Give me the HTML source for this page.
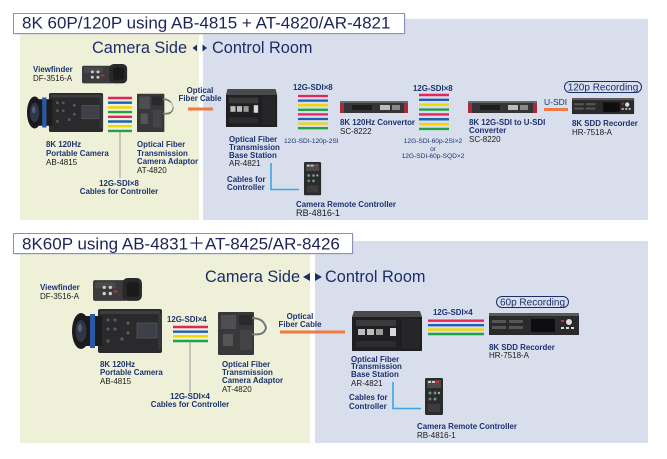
<!DOCTYPE html>
<html><head><meta charset="utf-8">
<style>
html,body{margin:0;padding:0;background:#fff;}
svg{display:block;}
text{font-family:"Liberation Sans","Noto Sans CJK JP",sans-serif;}
.lb{font-size:7.9px;font-weight:bold;fill:#1d3270;}
.md{font-size:8px;fill:#1a1a1a;}
.tiny{font-size:6.6px;fill:#1d3270;}
.hd{font-size:17px;fill:#1c2456;}
.sd{font-size:16.3px;fill:#1c2d6a;}
</style></head>
<body>
<svg width="667" height="459" viewBox="0 0 667 459" xmlns="http://www.w3.org/2000/svg">
<rect width="667" height="459" fill="#fff"/>

<!-- ============ TOP SECTION ============ -->
<rect x="203" y="19" width="445" height="201" fill="#d8deec"/>
<rect x="20" y="33" width="179" height="187" fill="#eef1d8"/>
<rect x="14.5" y="14.5" width="391" height="20" fill="#c9cbd6"/>
<rect x="13.5" y="13.5" width="391" height="20" fill="#fff" stroke="#8b93b5" stroke-width="1"/>
<text class="hd" x="22" y="28.5">8K 60P/120P using AB-4815 + AT-4820/AR-4821</text>

<text class="sd" x="92" y="53">Camera Side</text>
<polygon points="197,44.5 197,51.5 192.5,48" fill="#1c2d6a"/>
<polygon points="202.5,44.5 202.5,51.5 207,48" fill="#1c2d6a"/>
<text class="sd" x="212" y="53">Control Room</text>

<!-- Viewfinder top -->
<g transform="translate(82,64) scale(0.94,0.88)">
  <rect x="0" y="2" width="33" height="20" rx="2" fill="#3b3b3d"/>
  <rect x="2" y="4" width="20" height="6" fill="#4a4a4c"/>
  <circle cx="11" cy="9" r="1.6" fill="#cfcfcf"/><circle cx="17" cy="9" r="1.6" fill="#cfcfcf"/>
  <circle cx="11" cy="15" r="1.6" fill="#cfcfcf"/><circle cx="17" cy="15" r="1.6" fill="#cfcfcf"/>
  <rect x="20" y="12" width="4" height="2" fill="#c03040"/>
  <rect x="29" y="0" width="19" height="22" rx="5" fill="#29292b"/>
  <rect x="33" y="4" width="12" height="14" rx="3" fill="#1a1a1c"/>
</g>
<text class="lb" x="33" y="72">Viewfinder</text>
<text class="md" x="33" y="81">DF-3516-A</text>

<!-- Camera top -->
<g transform="translate(27,93) scale(0.845,0.886)">
  <rect x="26" y="0" width="64" height="44" rx="2" fill="#2a2a2c"/>
  <rect x="28" y="2" width="60" height="3" fill="#3e3e40"/>
  <rect x="65" y="14" width="20" height="15" fill="#3d4049" stroke="#555" stroke-width="0.8"/>
  <circle cx="36" cy="11" r="1.6" fill="#5a5a5a"/><circle cx="43" cy="11" r="1.6" fill="#5a5a5a"/>
  <circle cx="36" cy="20" r="1.6" fill="#5a5a5a"/><circle cx="43" cy="20" r="1.6" fill="#5a5a5a"/>
  <circle cx="50" cy="30" r="1.6" fill="#5a5a5a"/><circle cx="36" cy="32" r="1.6" fill="#5a5a5a"/>
  <circle cx="56" cy="14" r="1.6" fill="#5a5a5a"/><circle cx="56" cy="24" r="1.6" fill="#5a5a5a"/>
  <rect x="86" y="4" width="4" height="36" fill="#363638"/>
  <rect x="10" y="7" width="20" height="30" fill="#1c1c1e"/>
  <rect x="18" y="5" width="5" height="34" fill="#2b58a6"/>
  <ellipse cx="9" cy="22" rx="9" ry="18" fill="#1a1a1c"/>
  <ellipse cx="9" cy="22" rx="5.5" ry="11" fill="#2f3646"/>
  <ellipse cx="8" cy="19" rx="2" ry="4" fill="#55617a"/>
</g>

<!-- Lines top camera -->
<g stroke-width="2.4">
  <line x1="108" y1="98" x2="132" y2="98" stroke="#e6245c"/>
  <line x1="108" y1="102.7" x2="132" y2="102.7" stroke="#2060b0"/>
  <line x1="108" y1="107.4" x2="132" y2="107.4" stroke="#f2d600"/>
  <line x1="108" y1="112.1" x2="132" y2="112.1" stroke="#20a245"/>
  <line x1="108" y1="116.8" x2="132" y2="116.8" stroke="#e6245c"/>
  <line x1="108" y1="121.5" x2="132" y2="121.5" stroke="#2060b0"/>
  <line x1="108" y1="126.2" x2="132" y2="126.2" stroke="#f2d600"/>
  <line x1="108" y1="130.9" x2="132" y2="130.9" stroke="#20a245"/>
</g>
<line x1="120" y1="132" x2="120" y2="178" stroke="#9a9a9a" stroke-width="1"/>

<!-- Adaptor top -->
<g transform="translate(137,92) scale(0.72,0.89)">
  <rect x="0" y="2" width="38" height="43" rx="1" fill="#38383a"/>
  <rect x="3" y="5" width="15" height="14" fill="#4e4e50"/>
  <rect x="21" y="5" width="14" height="10" fill="#2a2a2c"/>
  <rect x="5" y="24" width="10" height="12" fill="#555"/>
  <rect x="22" y="20" width="12" height="20" fill="#444446"/>
  <path d="M36 8 q12 0 14 10 q-2 8 -14 6" fill="none" stroke="#777" stroke-width="2"/>
  <path d="M46 12 q6 4 0 10" fill="none" stroke="#e8e8e8" stroke-width="1.5"/>
</g>
<text class="lb" x="46" y="147">8K 120Hz</text>
<text class="lb" x="46" y="156">Portable Camera</text>
<text class="md" x="46" y="165">AB-4815</text>
<text class="lb" x="137" y="147">Optical Fiber</text>
<text class="lb" x="137" y="156">Transmission</text>
<text class="lb" x="137" y="164">Camera Adaptor</text>
<text class="md" x="137" y="173">AT-4820</text>
<text class="lb" x="119" y="186" text-anchor="middle" font-weight="normal">12G-SDI×8</text>
<text class="lb" x="119" y="194" text-anchor="middle">Cables for Controller</text>

<text class="lb" x="200" y="93" text-anchor="middle">Optical</text>
<text class="lb" x="200" y="101" text-anchor="middle">Fiber Cable</text>
<line x1="188" y1="109" x2="213" y2="109" stroke="#f07a40" stroke-width="3"/>

<!-- Base station top -->
<g transform="translate(226,89) scale(0.73,0.95)">
  <polygon points="2,0 68,0 70,6 0,6" fill="#4a4a4c"/>
  <rect x="0" y="6" width="70" height="34" fill="#1f1f21"/>
  <rect x="4" y="9" width="40" height="6" fill="#3a3a3c"/>
  <rect x="6" y="18" width="7" height="6" fill="#bdbdbd"/>
  <rect x="15" y="18" width="7" height="6" fill="#bdbdbd"/>
  <rect x="24" y="18" width="7" height="6" fill="#9a9a9a"/>
  <rect x="38" y="17" width="6" height="8" fill="#d8d8d8"/>
  <rect x="4" y="30" width="40" height="6" fill="#2c2c2e"/>
  <rect x="50" y="8" width="18" height="30" fill="#262628"/>
</g>
<text class="lb" x="293" y="90" font-weight="normal">12G-SDI×8</text>
<g stroke-width="2.3">
  <line x1="298" y1="96" x2="328" y2="96" stroke="#e6245c"/>
  <line x1="298" y1="100.6" x2="328" y2="100.6" stroke="#2060b0"/>
  <line x1="298" y1="105.2" x2="328" y2="105.2" stroke="#f2d600"/>
  <line x1="298" y1="109.8" x2="328" y2="109.8" stroke="#20a245"/>
  <line x1="298" y1="114.4" x2="328" y2="114.4" stroke="#e6245c"/>
  <line x1="298" y1="119" x2="328" y2="119" stroke="#2060b0"/>
  <line x1="298" y1="123.6" x2="328" y2="123.6" stroke="#f2d600"/>
  <line x1="298" y1="128.2" x2="328" y2="128.2" stroke="#20a245"/>
</g>
<text class="tiny" x="284" y="143">12G-SDI-120p-2SI</text>
<text class="lb" x="229" y="142">Optical Fiber</text>
<text class="lb" x="229" y="150">Transmission</text>
<text class="lb" x="229" y="158">Base Station</text>
<text class="md" x="229" y="166">AR-4821</text>
<path d="M271 163 V189.5 H299" fill="none" stroke="#38a8e0" stroke-width="1.6"/>
<text class="lb" x="227" y="182">Cables for</text>
<text class="lb" x="227" y="190">Controller</text>

<!-- Remote top -->
<g transform="translate(304,162) scale(0.95,0.9)">
  <rect x="0" y="0" width="18" height="37" rx="1.5" fill="#2b2b2d"/>
  <rect x="2" y="2" width="14" height="8" fill="#4a4a4c"/>
  <rect x="3" y="3" width="3" height="2" fill="#ccc"/><rect x="7" y="3" width="3" height="2" fill="#ccc"/><rect x="11" y="3" width="3" height="2" fill="#c33"/>
  <circle cx="5" cy="15" r="1.5" fill="#5aa070"/><circle cx="10" cy="15" r="1.5" fill="#888"/><circle cx="14" cy="15" r="1.2" fill="#aaa"/>
  <circle cx="5" cy="21" r="1.5" fill="#777"/><circle cx="10" cy="21" r="1.5" fill="#5aa070"/>
  <rect x="3" y="26" width="12" height="8" fill="#3c3c3e"/>
</g>
<text class="lb" x="296" y="207">Camera Remote Controller</text>
<text x="296" y="216" font-size="9.1" fill="#1a1a1a">RB-4816-1</text>

<!-- SC-8222 -->
<g>
  <rect x="340" y="101" width="68" height="3" fill="#6a6a6c"/>
  <rect x="340" y="103" width="68" height="10" fill="#353537"/>
  <rect x="340" y="103" width="4" height="10" fill="#a82a3c"/>
  <rect x="404" y="103" width="4" height="10" fill="#a82a3c"/>
  <rect x="352" y="105" width="20" height="5" fill="#1d1d1f"/>
  <rect x="380" y="105" width="10" height="5" fill="#bdbdbd"/>
  <rect x="392" y="105" width="8" height="5" fill="#888"/>
</g>
<text class="lb" x="340" y="125">8K 120Hz Convertor</text>
<text class="md" x="340" y="134">SC-8222</text>

<text class="lb" x="413" y="91" font-weight="normal">12G-SDI×8</text>
<g stroke-width="2.4">
  <line x1="419" y1="95" x2="449" y2="95" stroke="#e6245c"/>
  <line x1="419" y1="99.85" x2="449" y2="99.85" stroke="#2060b0"/>
  <line x1="419" y1="104.7" x2="449" y2="104.7" stroke="#f2d600"/>
  <line x1="419" y1="109.55" x2="449" y2="109.55" stroke="#20a245"/>
  <line x1="419" y1="114.4" x2="449" y2="114.4" stroke="#e6245c"/>
  <line x1="419" y1="119.25" x2="449" y2="119.25" stroke="#2060b0"/>
  <line x1="419" y1="124.1" x2="449" y2="124.1" stroke="#f2d600"/>
  <line x1="419" y1="128.95" x2="449" y2="128.95" stroke="#20a245"/>
</g>
<text class="tiny" x="433" y="143" text-anchor="middle">12G-SDI-60p-2SI×2</text>
<text class="tiny" x="433" y="151" text-anchor="middle">or</text>
<text class="tiny" x="433" y="158" text-anchor="middle">12G-SDI-60p-SQD×2</text>

<!-- SC-8220 -->
<g>
  <rect x="468" y="101" width="69" height="3" fill="#6a6a6c"/>
  <rect x="468" y="103" width="69" height="10" fill="#353537"/>
  <rect x="468" y="103" width="4" height="10" fill="#a82a3c"/>
  <rect x="533" y="103" width="4" height="10" fill="#a82a3c"/>
  <rect x="480" y="105" width="20" height="5" fill="#1d1d1f"/>
  <rect x="508" y="105" width="10" height="5" fill="#bdbdbd"/>
  <rect x="520" y="105" width="8" height="5" fill="#888"/>
</g>
<text class="lb" x="469" y="125">8K 12G-SDI to U-SDI</text>
<text class="lb" x="469" y="133">Converter</text>
<text class="md" x="469" y="142">SC-8220</text>

<text x="544" y="105" font-size="8.5" fill="#1d3270">U-SDI</text>
<line x1="544" y1="109.5" x2="568" y2="109.5" stroke="#f07a40" stroke-width="3"/>

<rect x="564.5" y="81.5" width="77" height="11" rx="5.5" fill="none" stroke="#1c2d6a" stroke-width="1"/>
<text x="603" y="90.5" font-size="10" fill="#1c2d6a" text-anchor="middle">120p Recording</text>

<!-- Recorder top -->
<g transform="translate(572,98) scale(0.69,0.73)">
  <rect x="0" y="0" width="90" height="4" fill="#5a5a5c"/>
  <rect x="0" y="3" width="90" height="19" fill="#2a2a2c"/>
  <rect x="3" y="7" width="14" height="3" fill="#555"/><rect x="3" y="13" width="14" height="3" fill="#555"/>
  <rect x="20" y="7" width="14" height="3" fill="#555"/><rect x="20" y="13" width="14" height="3" fill="#555"/>
  <rect x="45" y="6" width="24" height="13" fill="#0e0e10"/>
  <circle cx="80" cy="9" r="3" fill="#ddd"/>
  <rect x="72" y="14" width="3" height="2" fill="#ddd"/><rect x="77" y="14" width="3" height="2" fill="#ddd"/><rect x="82" y="14" width="3" height="2" fill="#ddd"/>
  <rect x="72" y="7" width="3" height="2" fill="#c33"/>
</g>
<text class="lb" x="572" y="126">8K SDD Recorder</text>
<text class="md" x="572" y="135">HR-7518-A</text>

<!-- ============ BOTTOM SECTION ============ -->
<rect x="315" y="241" width="333" height="202" fill="#d8deec"/>
<rect x="20" y="253" width="290" height="190" fill="#eef1d8"/>
<rect x="14.5" y="234.5" width="339" height="20" fill="#c9cbd6"/>
<rect x="13.5" y="233.5" width="339" height="20" fill="#fff" stroke="#8b93b5" stroke-width="1"/>
<text class="hd" x="22" y="249.5">8K60P using AB-4831＋AT-8425/AR-8426</text>

<text class="sd" x="205" y="282">Camera Side</text>
<polygon points="310,273 310,281 303,277" fill="#1c2d6a"/>
<polygon points="315,273 315,281 322,277" fill="#1c2d6a"/>
<text class="sd" x="325" y="282">Control Room</text>

<!-- Viewfinder bottom -->
<g transform="translate(93,278) scale(1.02,1.04)">
  <rect x="0" y="2" width="33" height="20" rx="2" fill="#3b3b3d"/>
  <rect x="2" y="4" width="20" height="6" fill="#4a4a4c"/>
  <circle cx="11" cy="9" r="1.6" fill="#cfcfcf"/><circle cx="17" cy="9" r="1.6" fill="#cfcfcf"/>
  <circle cx="11" cy="15" r="1.6" fill="#cfcfcf"/><circle cx="17" cy="15" r="1.6" fill="#cfcfcf"/>
  <rect x="20" y="12" width="4" height="2" fill="#c03040"/>
  <rect x="29" y="0" width="19" height="22" rx="5" fill="#29292b"/>
  <rect x="33" y="4" width="12" height="14" rx="3" fill="#1a1a1c"/>
</g>
<text class="lb" x="40" y="290">Viewfinder</text>
<text class="md" x="40" y="299">DF-3516-A</text>

<!-- Camera bottom -->
<g transform="translate(72,309)">
  <rect x="26" y="0" width="64" height="44" rx="2" fill="#2a2a2c"/>
  <rect x="28" y="2" width="60" height="3" fill="#3e3e40"/>
  <rect x="65" y="14" width="20" height="15" fill="#3d4049" stroke="#555" stroke-width="0.8"/>
  <circle cx="36" cy="11" r="1.6" fill="#5a5a5a"/><circle cx="43" cy="11" r="1.6" fill="#5a5a5a"/>
  <circle cx="36" cy="20" r="1.6" fill="#5a5a5a"/><circle cx="43" cy="20" r="1.6" fill="#5a5a5a"/>
  <circle cx="50" cy="30" r="1.6" fill="#5a5a5a"/><circle cx="36" cy="32" r="1.6" fill="#5a5a5a"/>
  <circle cx="56" cy="14" r="1.6" fill="#5a5a5a"/><circle cx="56" cy="24" r="1.6" fill="#5a5a5a"/>
  <rect x="86" y="4" width="4" height="36" fill="#363638"/>
  <rect x="10" y="7" width="20" height="30" fill="#1c1c1e"/>
  <rect x="18" y="5" width="5" height="34" fill="#2b58a6"/>
  <ellipse cx="9" cy="22" rx="9" ry="18" fill="#1a1a1c"/>
  <ellipse cx="9" cy="22" rx="5.5" ry="11" fill="#2f3646"/>
  <ellipse cx="8" cy="19" rx="2" ry="4" fill="#55617a"/>
</g>

<text class="lb" x="167" y="322" font-weight="normal">12G-SDI×4</text>
<g stroke-width="2.4">
  <line x1="173" y1="327" x2="208" y2="327" stroke="#e6245c"/>
  <line x1="173" y1="331.7" x2="208" y2="331.7" stroke="#2060b0"/>
  <line x1="173" y1="336.3" x2="208" y2="336.3" stroke="#f2d600"/>
  <line x1="173" y1="341" x2="208" y2="341" stroke="#20a245"/>
</g>
<line x1="190" y1="342" x2="190" y2="392" stroke="#9a9a9a" stroke-width="1"/>

<!-- Adaptor bottom -->
<g transform="translate(218,310)">
  <rect x="0" y="2" width="36" height="43" rx="1" fill="#38383a"/>
  <rect x="3" y="5" width="15" height="14" fill="#4e4e50"/>
  <rect x="21" y="5" width="13" height="10" fill="#2a2a2c"/>
  <rect x="5" y="24" width="10" height="12" fill="#555"/>
  <rect x="22" y="20" width="12" height="20" fill="#444446"/>
  <path d="M34 8 q12 0 14 10 q-2 8 -14 6" fill="none" stroke="#777" stroke-width="2"/>
  <path d="M48 12 q6 4 0 10" fill="none" stroke="#f4f4f4" stroke-width="1.5"/>
</g>

<text class="lb" x="300" y="319" text-anchor="middle">Optical</text>
<text class="lb" x="300" y="327" text-anchor="middle">Fiber Cable</text>
<line x1="280" y1="332" x2="345" y2="332" stroke="#f07a40" stroke-width="3"/>

<text class="lb" x="100" y="367">8K 120Hz</text>
<text class="lb" x="100" y="375">Portable Camera</text>
<text class="md" x="100" y="384">AB-4815</text>
<text class="lb" x="222" y="367">Optical Fiber</text>
<text class="lb" x="222" y="375">Transmission</text>
<text class="lb" x="222" y="383">Camera Adaptor</text>
<text class="md" x="222" y="392">AT-4820</text>
<text class="lb" x="190" y="399" text-anchor="middle" font-weight="normal">12G-SDI×4</text>
<text class="lb" x="190" y="407" text-anchor="middle">Cables for Controller</text>

<!-- Base station bottom -->
<g transform="translate(352,311)">
  <polygon points="2,0 68,0 70,6 0,6" fill="#4a4a4c"/>
  <rect x="0" y="6" width="70" height="34" fill="#1f1f21"/>
  <rect x="4" y="9" width="40" height="6" fill="#3a3a3c"/>
  <rect x="6" y="18" width="7" height="6" fill="#bdbdbd"/>
  <rect x="15" y="18" width="7" height="6" fill="#bdbdbd"/>
  <rect x="24" y="18" width="7" height="6" fill="#9a9a9a"/>
  <rect x="38" y="17" width="6" height="8" fill="#d8d8d8"/>
  <rect x="4" y="30" width="40" height="6" fill="#2c2c2e"/>
  <rect x="50" y="8" width="18" height="30" fill="#262628"/>
</g>
<text class="lb" x="433" y="315" font-weight="normal">12G-SDI×4</text>
<g stroke-width="2.4">
  <line x1="428" y1="320.7" x2="484" y2="320.7" stroke="#e6245c"/>
  <line x1="428" y1="325.2" x2="484" y2="325.2" stroke="#2060b0"/>
  <line x1="428" y1="329.6" x2="484" y2="329.6" stroke="#f2d600"/>
  <line x1="428" y1="334" x2="484" y2="334" stroke="#20a245"/>
</g>

<rect x="496.5" y="296.5" width="72" height="11" rx="5.5" fill="none" stroke="#1c2d6a" stroke-width="1"/>
<text x="532.5" y="305.5" font-size="10" fill="#1c2d6a" text-anchor="middle">60p Recording</text>

<!-- Recorder bottom -->
<g transform="translate(489,313)">
  <rect x="0" y="0" width="90" height="4" fill="#5a5a5c"/>
  <rect x="0" y="3" width="90" height="19" fill="#2a2a2c"/>
  <rect x="3" y="7" width="14" height="3" fill="#555"/><rect x="3" y="13" width="14" height="3" fill="#555"/>
  <rect x="20" y="7" width="14" height="3" fill="#555"/><rect x="20" y="13" width="14" height="3" fill="#555"/>
  <rect x="42" y="6" width="24" height="13" fill="#0e0e10"/>
  <circle cx="80" cy="9" r="3" fill="#ddd"/>
  <rect x="72" y="14" width="3" height="2" fill="#ddd"/><rect x="77" y="14" width="3" height="2" fill="#ddd"/><rect x="82" y="14" width="3" height="2" fill="#ddd"/>
  <rect x="72" y="7" width="3" height="2" fill="#c33"/>
</g>
<text class="lb" x="489" y="350">8K SDD Recorder</text>
<text class="md" x="489" y="358">HR-7518-A</text>

<text class="lb" x="351" y="362">Optical Fiber</text>
<text class="lb" x="351" y="369">Transmission</text>
<text class="lb" x="351" y="377">Base Station</text>
<text class="md" x="351" y="386">AR-4821</text>
<path d="M393 382 V408.5 H421" fill="none" stroke="#38a8e0" stroke-width="1.6"/>
<text class="lb" x="349" y="400">Cables for</text>
<text class="lb" x="349" y="409">Controller</text>

<!-- Remote bottom -->
<g transform="translate(425,378)">
  <rect x="0" y="0" width="18" height="37" rx="1.5" fill="#2b2b2d"/>
  <rect x="2" y="2" width="14" height="8" fill="#4a4a4c"/>
  <rect x="3" y="3" width="3" height="2" fill="#ccc"/><rect x="7" y="3" width="3" height="2" fill="#ccc"/><rect x="11" y="3" width="3" height="2" fill="#c33"/>
  <circle cx="5" cy="15" r="1.5" fill="#5aa070"/><circle cx="10" cy="15" r="1.5" fill="#888"/><circle cx="14" cy="15" r="1.2" fill="#aaa"/>
  <circle cx="5" cy="21" r="1.5" fill="#777"/><circle cx="10" cy="21" r="1.5" fill="#5aa070"/>
  <rect x="3" y="26" width="12" height="8" fill="#3c3c3e"/>
</g>
<text class="lb" x="417" y="429">Camera Remote Controller</text>
<text class="md" x="417" y="438">RB-4816-1</text>
</svg>
</body></html>
